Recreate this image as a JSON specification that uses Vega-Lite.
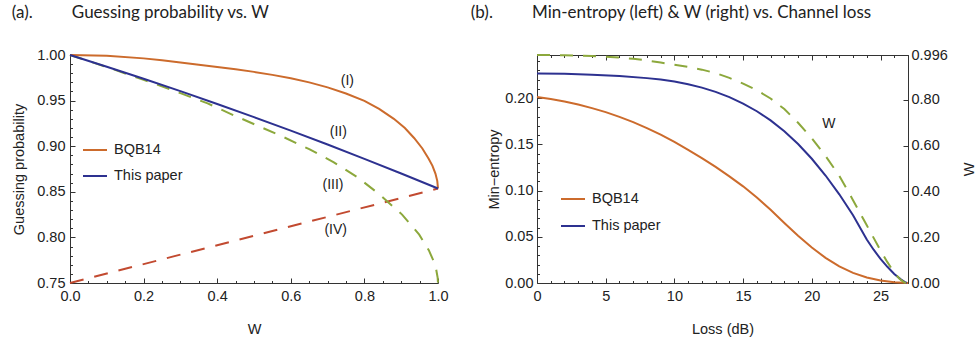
{
 "$schema": "https://vega.github.io/schema/vega-lite/v6.json",
 "padding": {"left": 11, "top": 4, "right": 2, "bottom": 2},
 "bounds": "flush",
 "spacing": 99,
 "config": {
  "font": "Liberation Sans",
  "view": {"stroke": null},
  "axis": {"domainColor": "#333", "tickColor": "#333", "labelColor": "#222", "titleColor": "#222", "labelFontSize": 14.5, "titleFontSize": 14.5, "titleFontWeight": "normal", "grid": false, "labelFont": "Liberation Sans", "titleFont": "Liberation Sans", "labelFlush": false, "labelOverlap": false, "tickWidth": 1, "domainWidth": 1},
  "title": {"font": "Lato", "fontSize": 17, "fontWeight": "normal", "color": "#222", "anchor": "start", "frame": "bounds", "offset": 25},
  "legend": {"labelFont": "Liberation Sans", "labelFontSize": 14.5, "labelColor": "#222", "symbolType": "stroke", "symbolSize": 576, "symbolStrokeWidth": 2}
 },
 "resolve": {"scale": {"color": "independent"}, "legend": {"color": "independent"}},
 "hconcat": [
  {
   "width": 368, "height": 228,
   "title": {"text": "(a).\u00a0\u00a0\u00a0\u00a0\u00a0\u00a0\u00a0\u00a0\u00a0Guessing probability vs. W"},
   "encoding": {
    "x": {"field": "W", "type": "quantitative", "scale": {"domain": [0, 1], "nice": false},
     "axis": {"title": "W", "values": [0,0.05,0.1,0.15,0.2,0.25,0.3,0.35,0.4,0.45,0.5,0.55,0.6,0.65,0.7,0.75,0.8,0.85,0.9,0.95,1],
      "tickSize": {"condition": {"test": "abs(datum.value*5-round(datum.value*5))<1e-6", "value": -5}, "value": -2.5},
      "labelExpr": "abs(datum.value*5-round(datum.value*5))<1e-6 ? format(datum.value,'.1f') : ''",
      "labelPadding": 11.5, "titlePadding": 17}},
    "y": {"field": "P", "type": "quantitative", "scale": {"domain": [0.75, 1], "nice": false, "zero": false},
     "axis": {"title": "Guessing probability", "values": [0.75,0.76,0.77,0.78,0.79,0.8,0.81,0.82,0.83,0.84,0.85,0.86,0.87,0.88,0.89,0.9,0.91,0.92,0.93,0.94,0.95,0.96,0.97,0.98,0.99,1],
      "tickSize": {"condition": {"test": "abs(datum.value*20-round(datum.value*20))<1e-6", "value": -5}, "value": -2.5},
      "labelExpr": "abs(datum.value*20-round(datum.value*20))<1e-6 ? format(datum.value,'.2f') : ''",
      "labelPadding": 10, "titlePadding": 10}}
   },
   "layer": [
    {"data": {"values": [{"W":0,"P":0.75},{"W":0.5,"P":0.8018},{"W":1,"P":0.8536}]},
     "mark": {"type": "line", "strokeWidth": 2, "color": "#C24A30", "strokeDash": [14, 11]}, "encoding": {}},
    {"data": {"values": [{"W":0,"P":1.0},{"W":0.1,"P":0.9868},{"W":0.2,"P":0.9728},{"W":0.3,"P":0.9582},{"W":0.374,"P":0.9469},{"W":0.446,"P":0.9337},{"W":0.514,"P":0.9218},{"W":0.582,"P":0.9097},{"W":0.65,"P":0.8968},{"W":0.717,"P":0.8823},{"W":0.781,"P":0.866},{"W":0.839,"P":0.8478},{"W":0.9025,"P":0.825},{"W":0.949,"P":0.803},{"W":0.975,"P":0.786},{"W":0.988,"P":0.774},{"W":0.995,"P":0.765},{"W":0.999,"P":0.756},{"W":1.0,"P":0.75}]},
     "mark": {"type": "line", "strokeWidth": 2, "color": "#8CA83C", "strokeDash": [13, 10]}, "encoding": {}},
    {"data": {"values": [
      {"c":"BQB14","W":0,"P":1.0},{"c":"BQB14","W":0.1,"P":0.9991},{"c":"BQB14","W":0.2,"P":0.9963},{"c":"BQB14","W":0.25,"P":0.9942},{"c":"BQB14","W":0.3,"P":0.9918},{"c":"BQB14","W":0.35,"P":0.9894},{"c":"BQB14","W":0.4,"P":0.9868},{"c":"BQB14","W":0.45,"P":0.9843},{"c":"BQB14","W":0.5,"P":0.9815},{"c":"BQB14","W":0.55,"P":0.9782},{"c":"BQB14","W":0.6,"P":0.9745},{"c":"BQB14","W":0.65,"P":0.97},{"c":"BQB14","W":0.7,"P":0.9645},{"c":"BQB14","W":0.75,"P":0.9578},{"c":"BQB14","W":0.8,"P":0.9497},{"c":"BQB14","W":0.84,"P":0.941},{"c":"BQB14","W":0.88,"P":0.93},{"c":"BQB14","W":0.91,"P":0.92},{"c":"BQB14","W":0.935,"P":0.909},{"c":"BQB14","W":0.9575,"P":0.8975},{"c":"BQB14","W":0.975,"P":0.886},{"c":"BQB14","W":0.985,"P":0.8785},{"c":"BQB14","W":0.993,"P":0.87},{"c":"BQB14","W":0.998,"P":0.862},{"c":"BQB14","W":1.0,"P":0.8536},
      {"c":"This paper","W":0,"P":1.0},{"c":"This paper","W":0.1,"P":0.9872},{"c":"This paper","W":0.2,"P":0.974},{"c":"This paper","W":0.3,"P":0.9604},{"c":"This paper","W":0.4,"P":0.9463},{"c":"This paper","W":0.5,"P":0.9319},{"c":"This paper","W":0.6,"P":0.9171},{"c":"This paper","W":0.7,"P":0.9018},{"c":"This paper","W":0.8,"P":0.8861},{"c":"This paper","W":0.9,"P":0.8701},{"c":"This paper","W":1.0,"P":0.8536}]},
     "mark": {"type": "line", "strokeWidth": 2},
     "encoding": {"color": {"field": "c", "type": "nominal", "scale": {"domain": ["BQB14", "This paper"], "range": ["#CC6B2C", "#2D3190"]},
      "legend": {"orient": "none", "legendX": 12, "legendY": 82, "title": null, "rowPadding": 6, "labelOffset": 6}}}},
    {"data": {"values": [{"t":"(I)","W":0.7537,"P":0.9719},{"t":"(II)","W":0.729,"P":0.9158},{"t":"(III)","W":0.7147,"P":0.8579},{"t":"(IV)","W":0.722,"P":0.8081}]},
     "mark": {"type": "text", "fontSize": 14, "font": "Liberation Sans", "color": "#222", "baseline": "middle", "align": "center"},
     "encoding": {"text": {"field": "t"}}}
   ]
  },
  {
   "width": 371, "height": 228,
   "title": {"text": "(b).\u00a0\u00a0\u00a0\u00a0\u00a0\u00a0\u00a0\u00a0\u00a0Min-entropy (left) & W (right) vs. Channel loss", "dx": -16},
   "resolve": {"scale": {"y": "independent"}, "axis": {"x": "independent", "y": "independent"}},
   "layer": [
    {"data": {"values": [
      {"c":"BQB14","L":0,"H":0.2012},{"c":"BQB14","L":1,"H":0.199},{"c":"BQB14","L":2,"H":0.1963},{"c":"BQB14","L":3,"H":0.193},{"c":"BQB14","L":4,"H":0.1891},{"c":"BQB14","L":5,"H":0.1847},{"c":"BQB14","L":6,"H":0.1796},{"c":"BQB14","L":7,"H":0.1739},{"c":"BQB14","L":8,"H":0.1675},{"c":"BQB14","L":9,"H":0.1604},{"c":"BQB14","L":10,"H":0.1525},{"c":"BQB14","L":11,"H":0.144},{"c":"BQB14","L":12,"H":0.135},{"c":"BQB14","L":13,"H":0.1255},{"c":"BQB14","L":14,"H":0.1153},{"c":"BQB14","L":15,"H":0.1045},{"c":"BQB14","L":16,"H":0.0925},{"c":"BQB14","L":17,"H":0.0792},{"c":"BQB14","L":18,"H":0.0648},{"c":"BQB14","L":19,"H":0.051},{"c":"BQB14","L":20,"H":0.0383},{"c":"BQB14","L":21,"H":0.0272},{"c":"BQB14","L":22,"H":0.018},{"c":"BQB14","L":23,"H":0.011},{"c":"BQB14","L":24,"H":0.006},{"c":"BQB14","L":25,"H":0.0027},{"c":"BQB14","L":26,"H":0.0008},{"c":"BQB14","L":27,"H":0.0},
      {"c":"This paper","L":0,"H":0.2264},{"c":"This paper","L":2,"H":0.2261},{"c":"This paper","L":4,"H":0.2252},{"c":"This paper","L":6,"H":0.2237},{"c":"This paper","L":8,"H":0.2215},{"c":"This paper","L":9,"H":0.2199},{"c":"This paper","L":10,"H":0.2179},{"c":"This paper","L":11,"H":0.2149},{"c":"This paper","L":12,"H":0.2112},{"c":"This paper","L":13,"H":0.2066},{"c":"This paper","L":14,"H":0.2009},{"c":"This paper","L":15,"H":0.194},{"c":"This paper","L":16,"H":0.1857},{"c":"This paper","L":17,"H":0.1758},{"c":"This paper","L":18,"H":0.164},{"c":"This paper","L":19,"H":0.1502},{"c":"This paper","L":20,"H":0.1343},{"c":"This paper","L":21,"H":0.1162},{"c":"This paper","L":22,"H":0.0959},{"c":"This paper","L":23,"H":0.0733},{"c":"This paper","L":24,"H":0.047},{"c":"This paper","L":24.5,"H":0.036},{"c":"This paper","L":25,"H":0.026},{"c":"This paper","L":25.5,"H":0.0175},{"c":"This paper","L":26,"H":0.0098},{"c":"This paper","L":26.5,"H":0.0037},{"c":"This paper","L":26.75,"H":0.0012},{"c":"This paper","L":26.9,"H":0.0}]},
     "mark": {"type": "line", "strokeWidth": 2},
     "encoding": {
      "x": {"field": "L", "type": "quantitative", "scale": {"domain": [0, 27], "nice": false},
       "axis": {"orient": "bottom", "title": "Loss (dB)", "values": [0,1,2,3,4,5,6,7,8,9,10,11,12,13,14,15,16,17,18,19,20,21,22,23,24,25,26,27],
        "tickSize": {"condition": {"test": "datum.value % 5 === 0", "value": -5}, "value": -2.5},
        "labelExpr": "datum.value % 5 === 0 ? format(datum.value,'d') : ''", "labelPadding": 11.5, "titlePadding": 17}},
      "y": {"field": "H", "type": "quantitative", "scale": {"domain": [0, 0.2465], "nice": false},
       "axis": {"orient": "left", "title": "Min\u2212entropy", "values": [0,0.01,0.02,0.03,0.04,0.05,0.06,0.07,0.08,0.09,0.1,0.11,0.12,0.13,0.14,0.15,0.16,0.17,0.18,0.19,0.2,0.21,0.22,0.23,0.24],
        "tickSize": {"condition": {"test": "abs(datum.value*20-round(datum.value*20))<1e-6", "value": -5}, "value": -2.5},
        "labelExpr": "abs(datum.value*20-round(datum.value*20))<1e-6 ? format(datum.value,'.2f') : ''",
        "labelPadding": 9, "titlePadding": 3}},
      "color": {"field": "c", "type": "nominal", "scale": {"domain": ["BQB14", "This paper"], "range": ["#CC6B2C", "#2D3190"]},
       "legend": {"orient": "none", "legendX": 23, "legendY": 131, "title": null, "rowPadding": 7, "labelOffset": 6}}
     }},
    {"data": {"values": [{"L":0,"V":0.996},{"L":1,"V":0.9958},{"L":2,"V":0.995},{"L":3,"V":0.9935},{"L":4,"V":0.9915},{"L":5,"V":0.9885},{"L":6,"V":0.985},{"L":7,"V":0.9795},{"L":8,"V":0.972},{"L":9,"V":0.963},{"L":10,"V":0.9535},{"L":11,"V":0.944},{"L":12,"V":0.932},{"L":13,"V":0.917},{"L":14,"V":0.896},{"L":15,"V":0.871},{"L":16,"V":0.842},{"L":17,"V":0.806},{"L":18,"V":0.76},{"L":19,"V":0.7},{"L":20,"V":0.632},{"L":21,"V":0.555},{"L":22,"V":0.468},{"L":23,"V":0.362},{"L":24,"V":0.252},{"L":25,"V":0.142},{"L":25.5,"V":0.091},{"L":26,"V":0.046},{"L":26.4,"V":0.017},{"L":26.7,"V":0.004},{"L":26.85,"V":0.0}]},
     "encoding": {
      "x": {"field": "L", "type": "quantitative", "scale": {"domain": [0, 27], "nice": false},
       "axis": {"orient": "top", "title": null, "labels": false, "values": [0,1,2,3,4,5,6,7,8,9,10,11,12,13,14,15,16,17,18,19,20,21,22,23,24,25,26,27],
        "tickSize": {"condition": {"test": "datum.value % 5 === 0", "value": -5}, "value": -2.5}}},
      "y": {"field": "V", "type": "quantitative", "scale": {"domain": [0, 0.996], "nice": false},
       "axis": {"orient": "right", "title": "W", "values": [0, 0.2, 0.4, 0.6, 0.8, 0.996], "tickSize": -5,
        "labelExpr": "datum.value > 0.99 ? '0.996' : format(datum.value,'.2f')", "labelPadding": 8, "titlePadding": 29, "titleAngle": 270}}
     },
     "layer": [
      {"mark": {"type": "line", "strokeWidth": 2, "color": "#8CA83C", "strokeDash": [13, 10]}, "encoding": {}},
      {"data": {"values": [{"t": "W", "L": 21.24, "V": 0.6925}]},
       "mark": {"type": "text", "fontSize": 14, "font": "Liberation Sans", "color": "#222", "baseline": "middle", "align": "center"},
       "encoding": {"text": {"field": "t"}}}
     ]}
   ]
  }
 ]
}
